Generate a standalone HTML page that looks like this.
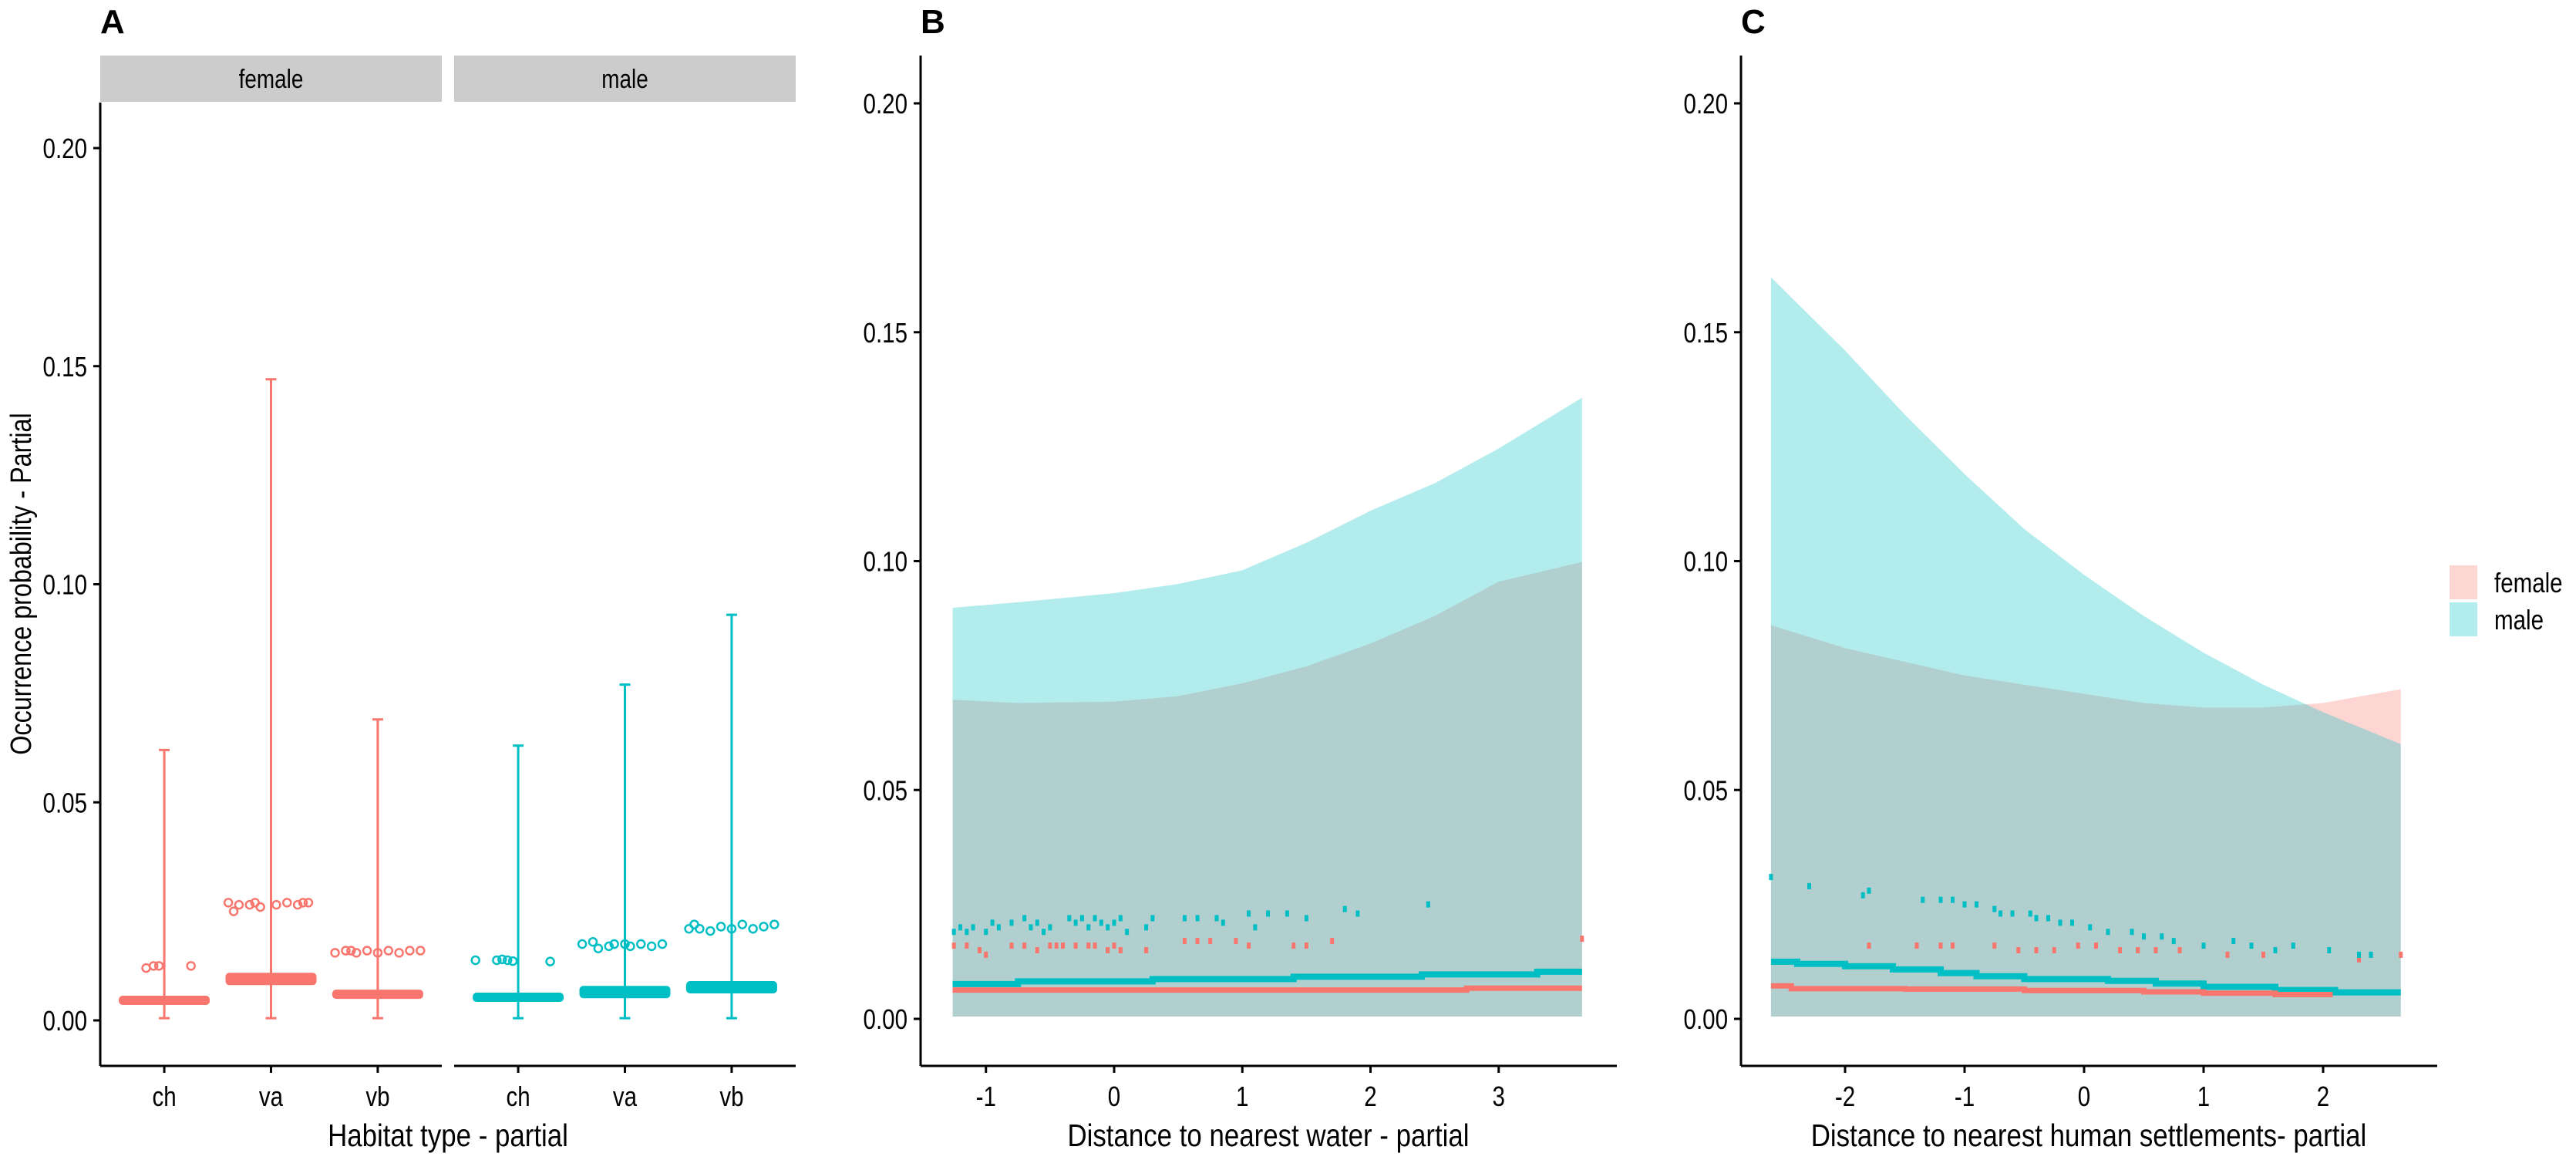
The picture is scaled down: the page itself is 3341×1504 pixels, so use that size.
<!DOCTYPE html>
<html><head><meta charset="utf-8">
<style>
html,body{margin:0;padding:0;background:#fff;}
svg{display:block;}
text{font-family:"Liberation Sans Narrow","Liberation Sans",sans-serif;fill:#000;}
</style></head>
<body>
<svg id="chart" width="3341" height="1504" viewBox="0 0 3341 1504" xmlns="http://www.w3.org/2000/svg">
<g id="gA"></g>
<g id="gB"></g>
<g id="gC"></g>
<g id="legend">
  <rect x="3177" y="733" width="36" height="44" fill="#F8766D" fill-opacity="0.3"/>
  <rect x="3177" y="781" width="36" height="44" fill="#00BFC4" fill-opacity="0.3"/>
  <text x="3235" y="768" font-size="36">female</text>
  <text x="3235" y="816" font-size="36">male</text>
</g>
</svg>
<script>
// ---------- Panel A data ----------
const aCategories = ["ch","va","vb"];
const aFacets = ["female","male"];
const aFemaleBand = [0.0046,0.0095,0.0060];
const aMaleBand = [0.0053,0.0065,0.0076];
const aFemaleUpper = [0.062,0.147,0.069];
const aMaleUpper = [0.063,0.077,0.093];
const aLower = 0.0005;
const aFemaleOutX = [[-0.17,-0.1,-0.05,0.25],[-0.4,-0.35,-0.3,-0.2,-0.15,-0.1,0.05,0.15,0.25,0.3,0.35],[-0.4,-0.3,-0.25,-0.2,-0.1,0.0,0.1,0.2,0.3,0.4]];
const aFemaleOutY = [[0.012,0.0125,0.0125,0.0125],[0.027,0.025,0.0265,0.0265,0.027,0.026,0.0265,0.027,0.0265,0.027,0.027],[0.0155,0.016,0.016,0.0155,0.016,0.0155,0.016,0.0155,0.016,0.016]];
const aMaleOutX = [[-0.4,-0.2,-0.15,-0.1,-0.05,0.3],[-0.4,-0.3,-0.25,-0.15,-0.1,0.0,0.05,0.15,0.25,0.35],[-0.4,-0.35,-0.3,-0.2,-0.1,0.0,0.1,0.2,0.3,0.4]];
const aMaleOutY = [[0.0138,0.0138,0.014,0.0138,0.0136,0.0135],[0.0175,0.018,0.0165,0.017,0.0175,0.0175,0.017,0.0175,0.017,0.0175],[0.021,0.022,0.021,0.0205,0.0215,0.021,0.022,0.021,0.0215,0.022]];
const yTicks = [0,0.05,0.10,0.15,0.20];
const yTickLabels = ["0.00","0.05","0.10","0.15","0.20"];

// ---------- Panel B data ----------
const bTicks = [-1,0,1,2,3];
const bRibX = [-1.26,-0.75,0,0.5,1,1.5,2,2.5,3,3.65];
const bMaleUpper = [0.0898,0.091,0.093,0.095,0.098,0.104,0.111,0.117,0.1246,0.1357];
const bFemaleUpper = [0.0697,0.069,0.0693,0.0705,0.0733,0.077,0.082,0.088,0.0955,0.0998];
const bRibLower = [0.0005,0.0005,0.0005,0.0005,0.0005,0.0005,0.0005,0.0005,0.0005,0.0005];
const bMaleLineX = [-1.26,-0.75,0.3,1.4,2.4,3.3,3.65];
const bMaleLineY = [0.0076,0.0082,0.0087,0.0092,0.0097,0.0103,0.0103];
const bFemLineX = [-1.26,2.75,3.65];
const bFemLineY = [0.0063,0.0067,0.0067];
const bMalePtX = [-1.25,-1.2,-1.15,-1.1,-1.0,-0.95,-0.9,-0.8,-0.7,-0.65,-0.6,-0.55,-0.5,-0.35,-0.3,-0.25,-0.2,-0.15,-0.1,-0.05,0.0,0.05,0.1,0.25,0.3,0.55,0.65,0.8,0.85,1.05,1.1,1.2,1.35,1.5,1.8,1.9,2.45];
const bMalePtY = [0.019,0.020,0.019,0.020,0.019,0.021,0.020,0.021,0.022,0.020,0.021,0.019,0.020,0.022,0.021,0.022,0.020,0.022,0.021,0.020,0.021,0.022,0.019,0.020,0.022,0.022,0.022,0.022,0.021,0.023,0.020,0.023,0.023,0.022,0.024,0.023,0.025];
const bFemPtX = [-1.25,-1.15,-1.05,-1.0,-0.8,-0.7,-0.6,-0.5,-0.45,-0.4,-0.3,-0.2,-0.15,-0.05,0.0,0.05,0.25,0.55,0.65,0.75,0.95,1.05,1.4,1.5,1.7,3.65];
const bFemPtY = [0.016,0.016,0.015,0.014,0.016,0.016,0.015,0.016,0.016,0.016,0.016,0.016,0.016,0.015,0.016,0.015,0.015,0.017,0.017,0.017,0.017,0.016,0.016,0.016,0.017,0.0175];

// ---------- Panel C data ----------
const cTicks = [-2,-1,0,1,2];
const cRibX = [-2.62,-2,-1.5,-1,-0.5,0,0.5,1,1.5,2,2.65];
const cMaleUpper = [0.162,0.146,0.132,0.119,0.107,0.097,0.088,0.080,0.073,0.067,0.060];
const cFemaleUpper = [0.086,0.081,0.078,0.075,0.073,0.071,0.069,0.068,0.068,0.069,0.072];
const cRibLower = [0.0005,0.0005,0.0005,0.0005,0.0005,0.0005,0.0005,0.0005,0.0005,0.0005,0.0005];
const cMaleLineX = [-2.62,-2.4,-2.0,-1.6,-1.2,-0.9,-0.5,0.2,0.6,1.0,1.6,2.1,2.65];
const cMaleLineY = [0.0125,0.0120,0.0115,0.0108,0.0100,0.0093,0.0087,0.0083,0.0077,0.0070,0.0063,0.0058,0.0058];
const cFemLineX = [-2.62,-2.45,-1.5,-0.5,0.5,1.0,1.6,2.08];
const cFemLineY = [0.0072,0.0066,0.0065,0.0062,0.0059,0.0056,0.0053,0.0053];
const cMalePtX = [-2.62,-2.3,-1.85,-1.8,-1.35,-1.2,-1.1,-1.0,-0.9,-0.75,-0.7,-0.6,-0.45,-0.4,-0.3,-0.2,-0.1,0.05,0.2,0.4,0.5,0.65,0.75,1.0,1.25,1.4,1.6,1.75,2.05,2.3,2.4];
const cMalePtY = [0.031,0.029,0.027,0.028,0.026,0.026,0.026,0.025,0.025,0.024,0.023,0.023,0.023,0.022,0.022,0.021,0.021,0.020,0.019,0.019,0.018,0.018,0.017,0.016,0.017,0.016,0.015,0.016,0.015,0.014,0.014];
const cFemPtX = [-1.8,-1.4,-1.2,-1.1,-0.75,-0.55,-0.4,-0.25,-0.05,0.1,0.3,0.45,0.6,0.8,1.2,1.5,2.3,2.65];
const cFemPtY = [0.016,0.016,0.016,0.016,0.016,0.015,0.015,0.015,0.016,0.016,0.015,0.015,0.015,0.015,0.014,0.014,0.013,0.014];

const RED="#F8766D", CYAN="#00BFC4", NS="http://www.w3.org/2000/svg";
function mk(parent,tag,attrs,txt){const e=document.createElementNS(NS,tag);for(const k in attrs)e.setAttribute(k,attrs[k]);if(txt!==undefined)e.textContent=txt;parent.appendChild(e);return e;}

function yScale(zeroY,per05){return v=>zeroY-v*per05/0.05;}

function drawYAxis(g,x,top,bottom,ys){
  const ax=mk(g,'line',{x1:x,y1:top,x2:x,y2:bottom,stroke:'#000','stroke-width':3});
  
  
  yTicks.forEach((t,i)=>{
    const tk=mk(g,'line',{x1:x-9,y1:ys(t),x2:x,y2:ys(t),stroke:'#000','stroke-width':3});
    
    
    const lb=mk(g,'text',{x:x-17,y:ys(t)+13,'font-size':36,'text-anchor':'end'},yTickLabels[i]);
    
    
  });
}

// ---------- Panel A ----------
(function(){
  const g=document.getElementById('gA');
  const ys=yScale(1323,282.75);
  const facetX0=[130,589], facetW=443, unit=facetW/3.2;
  const t=mk(g,'text',{x:130,y:43,'font-size':44,'font-weight':'bold'},'A');
  
  
  drawYAxis(g,130,133,1382,ys);
  const yt=mk(g,'text',{x:0,y:0,'font-size':38,'text-anchor':'middle',transform:'translate(40,757) rotate(-90)','data-title':'1'},'Occurrence probability - Partial');
  
  
  const xt=mk(g,'text',{x:581,y:1486,'font-size':41,'text-anchor':'middle','data-title':'1'},'Habitat type - partial');
  
  
  aFacets.forEach((f,fi)=>{
    const x0=facetX0[fi];
    const strip=mk(g,'rect',{x:x0,y:72,width:facetW,height:60,fill:'#CCCCCC'});
    
    
    const st=mk(g,'text',{x:x0+facetW/2,y:114,'font-size':34,'text-anchor':'middle',fill:'#1a1a1a'},f);
    
    
    const xa=mk(g,'line',{x1:x0,y1:1382,x2:x0+facetW,y2:1382,stroke:'#000','stroke-width':3});
    
    
    const col=fi===0?RED:CYAN;
    const band=fi===0?aFemaleBand:aMaleBand;
    const upper=fi===0?aFemaleUpper:aMaleUpper;
    const ox=fi===0?aFemaleOutX:aMaleOutX, oy=fi===0?aFemaleOutY:aMaleOutY;
    aCategories.forEach((c,ci)=>{
      const cx=x0+unit*(0.6+ci);
      const tk=mk(g,'line',{x1:cx,y1:1382,x2:cx,y2:1391,stroke:'#000','stroke-width':3});
      
      
      const tl=mk(g,'text',{x:cx,y:1434,'font-size':36,'text-anchor':'middle'},c);
      
      
      const eb=mk(g,'path',{d:`M${cx},${ys(upper[ci])}V${ys(aLower)}M${cx-7},${ys(upper[ci])}H${cx+7}M${cx-7},${ys(aLower)}H${cx+7}`,stroke:col,'stroke-width':3,fill:'none'});
      
      
      const bh=(ci===1||fi===1&&ci===2)?16:12;
      const bd=mk(g,'rect',{x:cx-59,y:ys(band[ci])-bh/2,width:118,height:bh,rx:5,fill:col});
      
      
      ox[ci].forEach((dx,k)=>{
        const p=mk(g,'circle',{cx:cx+dx*unit,cy:ys(oy[ci][k]),r:5,fill:'none',stroke:col,'stroke-width':2.5});
        
        
      });
    });
  });
})();

// ---------- Continuous panels ----------
function contPanel(gid,letter,axX,zeroX,unitPx,ticks,ribX,maleUp,femUp,ribLo,mlx,mly,flx,fly,mpx,mpy,fpx,fpy,title){
  const g=document.getElementById(gid);
  const ys=yScale(1321,296.75);
  const xs=v=>zeroX+v*unitPx;
  const t=mk(g,'text',{x:axX,y:43,'font-size':44,'font-weight':'bold'},letter);
  
  
  function rib(up,col,name){
    let d='M'+ribX.map((x,i)=>xs(x)+','+ys(up[i])).join('L');
    for(let i=ribX.length-1;i>=0;i--)d+='L'+xs(ribX[i])+','+ys(ribLo[i]);
    const p=mk(g,'path',{d:d+'Z',fill:col,'fill-opacity':0.3});
    
    
  }
  rib(femUp,RED,'ribbon-female');
  rib(maleUp,CYAN,'ribbon-male');
  function pts(px,py,col,name){
    px.forEach((x,i)=>{
      const r=mk(g,'rect',{x:xs(x)-2.5,y:ys(py[i])-4,width:5,height:8,fill:col});
      
      
    });
  }
  pts(fpx,fpy,RED,'point-female');
  pts(mpx,mpy,CYAN,'point-male');
  function step(lx,ly,col,name,w){
    let d='M'+xs(lx[0])+','+ys(ly[0]);
    for(let i=1;i<lx.length;i++){d+='H'+xs(lx[i])+'V'+ys(ly[i]);}
    const p=mk(g,'path',{d:d,stroke:col,'stroke-width':w,fill:'none'});
    
    
  }
  step(mlx,mly,CYAN,'fit-line-male',8);
  step(flx,fly,RED,'fit-line-female',7);
  drawYAxis(g,axX,72,1382,ys);
  const xa=mk(g,'line',{x1:axX,y1:1382,x2:axX+903,y2:1382,stroke:'#000','stroke-width':3});
  
  
  ticks.forEach(v=>{
    const tk=mk(g,'line',{x1:xs(v),y1:1382,x2:xs(v),y2:1391,stroke:'#000','stroke-width':3});
    
    
    const tl=mk(g,'text',{x:xs(v),y:1434,'font-size':36,'text-anchor':'middle'},String(v));
    
    
  });
  const xt=mk(g,'text',{x:axX+451,y:1486,'font-size':41,'text-anchor':'middle','data-title':'1'},title);
  
  
}
contPanel('gB','B',1194,1445,166.25,bTicks,bRibX,bMaleUpper,bFemaleUpper,bRibLower,bMaleLineX,bMaleLineY,bFemLineX,bFemLineY,bMalePtX,bMalePtY,bFemPtX,bFemPtY,'Distance to nearest water - partial');
contPanel('gC','C',2258,2703,155,cTicks,cRibX,cMaleUpper,cFemaleUpper,cRibLower,cMaleLineX,cMaleLineY,cFemLineX,cFemLineY,cMalePtX,cMalePtY,cFemPtX,cFemPtY,'Distance to nearest human settlements- partial');

// Condense all text (narrow font look) around its anchor
document.querySelectorAll('#chart text').forEach(t=>{
  if(t.getAttribute('font-weight')==='bold') return;
  const len=t.getComputedTextLength();
  if(!len) return;
  const x=parseFloat(t.getAttribute('x')), y=parseFloat(t.getAttribute('y'));
  const anchor=t.getAttribute('text-anchor')||'start';
  const L=len*(t.getAttribute('data-title')?0.85:0.82);
  let nx=x;
  t.setAttribute('textLength',L);
  t.setAttribute('lengthAdjust','spacingAndGlyphs');
  if(anchor==='middle'){t.setAttribute('text-anchor','start');nx=x-L/2;}
  else if(anchor==='end'){t.setAttribute('text-anchor','start');nx=x-L;}
  t.setAttribute('x',nx);
});
</script>
</body></html>
